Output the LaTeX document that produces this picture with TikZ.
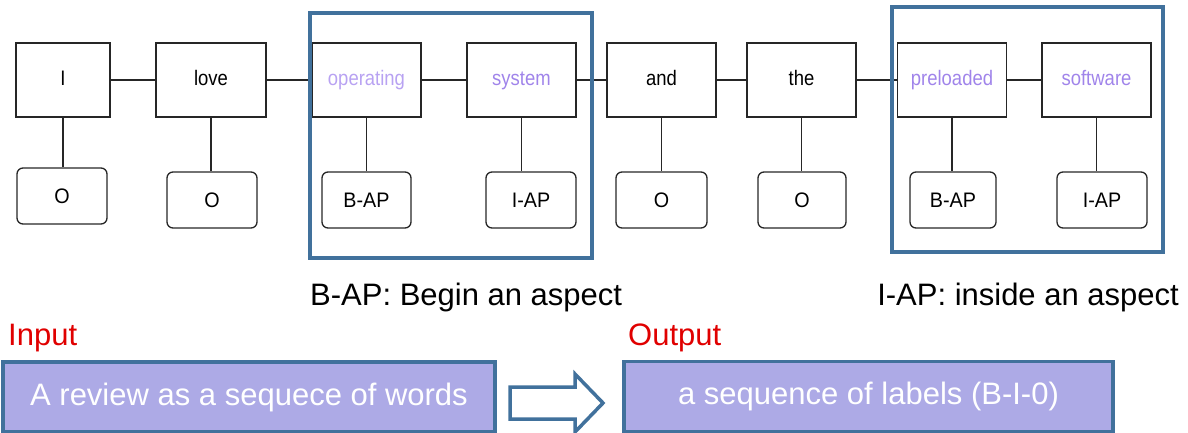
\documentclass[tikz,border=0pt]{standalone}
\usepackage{fontspec}
\setmainfont{Liberation Sans}
\newfontfamily\wordfont[FakeStretch=0.88]{Liberation Sans}
\newfontfamily\tagfont[FakeStretch=0.94]{Liberation Sans}
\definecolor{frameblue}{HTML}{41719C}
\definecolor{boxfill}{HTML}{ADAAE6}
\definecolor{wordpurple}{HTML}{A084EA}
\definecolor{lightpurple}{HTML}{B8A2F2}
\definecolor{redlab}{HTML}{E00000}
\begin{document}
\begin{tikzpicture}[x=1pt,y=-1pt,
  wordbox/.style={draw=black!85, line width=1.4pt, minimum height=74pt, inner sep=0pt, text height=15pt, text depth=4.5pt, font=\wordfont\fontsize{21}{25}\selectfont},
  tagbox/.style={draw=black!85, line width=1.3pt, rounded corners=6pt, minimum height=56pt, inner sep=0pt, text height=15pt, text depth=0pt, font=\tagfont\fontsize{21}{25}\selectfont},
  link/.style={draw=black!85, line width=1.4pt},
  group/.style={draw=frameblue, line width=4pt},
  bigbox/.style={draw=frameblue, fill=boxfill, line width=3.5pt, inner sep=0pt, minimum height=70pt, text=white, font=\fontsize{31}{36}\selectfont},
  caption/.style={inner sep=0pt, font=\fontsize{31}{36}\selectfont},
  bigarrow/.style={draw=frameblue, fill=white, line width=3.5pt, line join=miter},
]
\useasboundingbox (0,0) rectangle (1188,433);

% word boxes
\node[wordbox, minimum width=94pt] (wI) at (63,80) {I};
\node[wordbox, minimum width=110pt] (wlove) at (211,80) {love};
\node[wordbox, minimum width=109pt, text=lightpurple] (wop) at (366.5,80) {operating};
\node[wordbox, minimum width=109pt, text=wordpurple] (wsys) at (521.5,80) {system};
\node[wordbox, minimum width=109pt] (wand) at (661.5,80) {and};
\node[wordbox, minimum width=109pt] (wthe) at (801.5,80) {the};
\node[wordbox, minimum width=109pt, text=wordpurple] (wpre) at (952,80) {preloaded};
\node[wordbox, minimum width=109pt, text=wordpurple] (wsoft) at (1096.5,80) {software};

% tag boxes
\node[tagbox, minimum width=90pt] (tI) at (62,196) {O};
\node[tagbox, minimum width=90pt] (tlove) at (212,200) {O};
\node[tagbox, minimum width=89pt] (top) at (366.5,200) {B-AP};
\node[tagbox, minimum width=90pt] (tsys) at (531,200) {I-AP};
\node[tagbox, minimum width=91pt] (tand) at (661.5,200) {O};
\node[tagbox, minimum width=88pt] (tthe) at (802,200) {O};
\node[tagbox, minimum width=86pt] (tpre) at (953,200) {B-AP};
\node[tagbox, minimum width=90pt] (tsoft) at (1102,200) {I-AP};

% chain links
\draw[link] (wI) -- (wlove);
\draw[link] (wlove) -- (wop);
\draw[link] (wop) -- (wsys);
\draw[link] (wsys) -- (wand);
\draw[link] (wand) -- (wthe);
\draw[link] (wthe) -- (wpre);
\draw[link] (wpre) -- (wsoft);

% vertical links
\foreach \w/\t in {wI/tI, wlove/tlove, wop/top, wsys/tsys, wand/tand, wthe/tthe, wpre/tpre, wsoft/tsoft}
  \draw[link] (\w.south) -- (\w.south |- \t.north);

% aspect frames
\draw[group] (310,13) rectangle (592,258);
\draw[group] (892,7) rectangle (1163,252);

% legends
\node[caption, anchor=base west] (legB) at (310,305) {B-AP: Begin an aspect};
\node[caption, anchor=base east] (legI) at (1179,305) {I-AP: inside an aspect};

% input / output
\node[caption, anchor=base west, text=redlab] (inlab) at (8,345) {Input};
\node[caption, anchor=base west, text=redlab] (outlab) at (628,345) {Output};
\node[bigbox, minimum width=492pt] (inbox) at (249,397) {A review as a sequece of words};
\node[bigbox, minimum width=489pt] (outbox) at (868.5,396.5) {a sequence of labels (B-I-0)};

% block arrow
\draw[bigarrow] (510,387) -- (575,387) -- (575,374) -- (603,403) -- (575,432) -- (575,419) -- (510,419) -- cycle;
\end{tikzpicture}
\end{document}
